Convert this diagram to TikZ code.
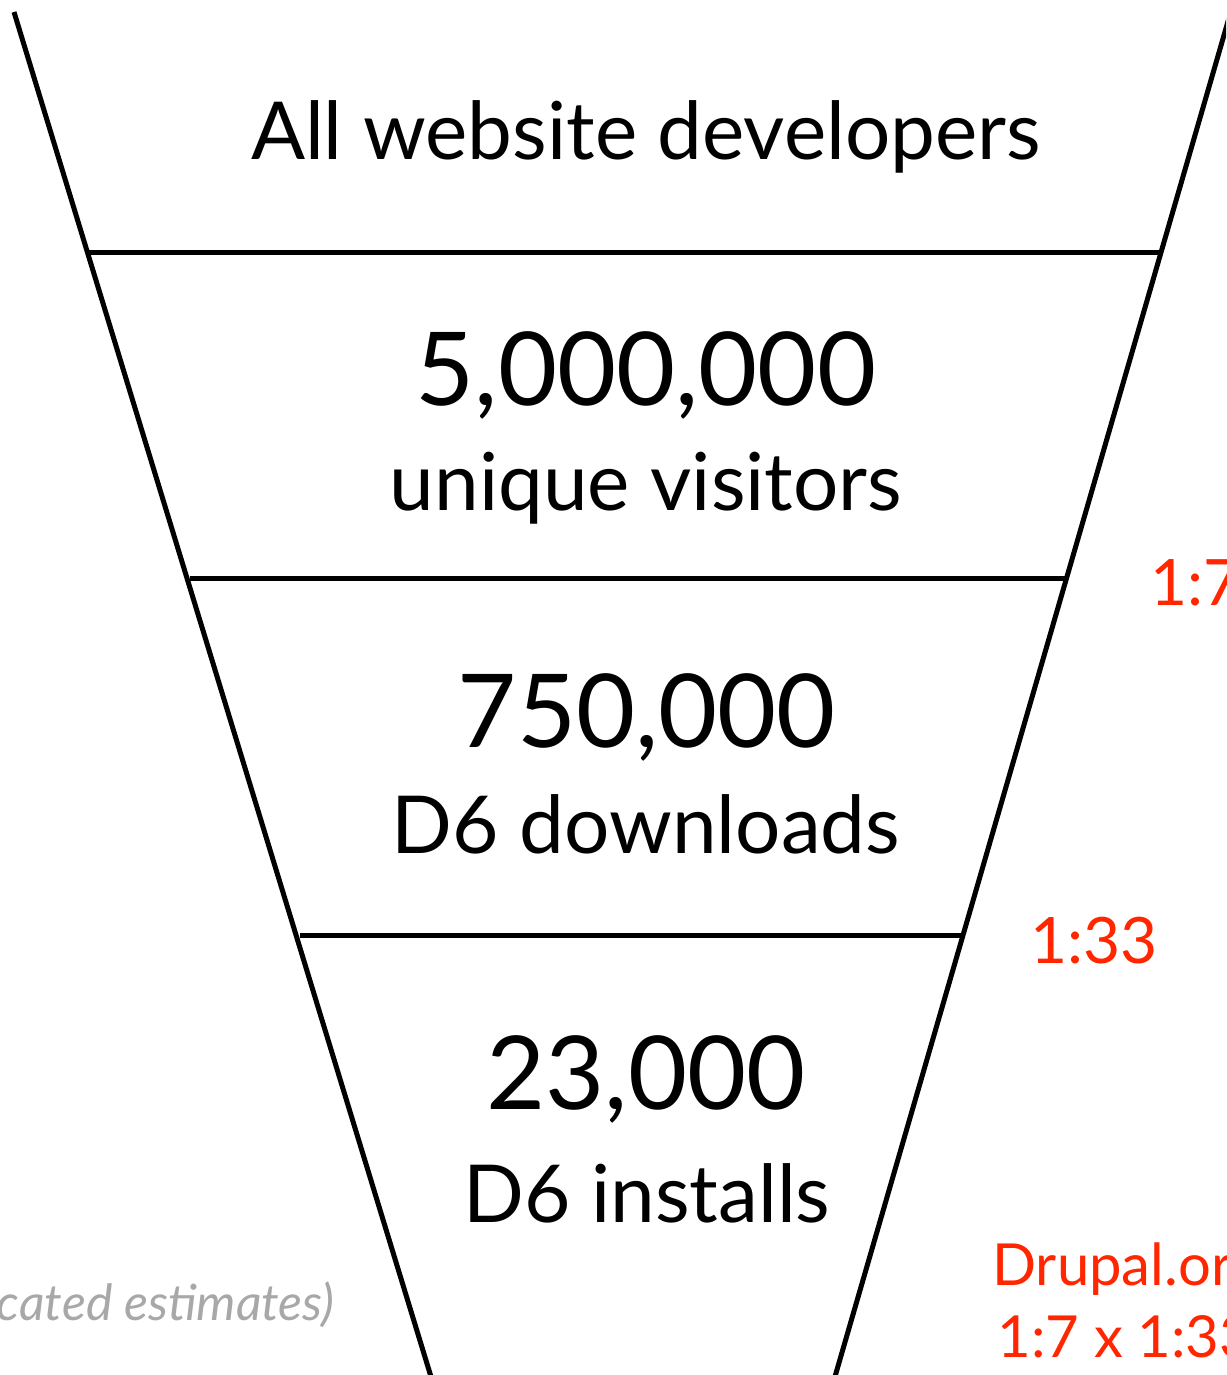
\documentclass[tikz,border=0pt]{standalone}
\usepackage{fontspec}
\setmainfont{Lato}
\definecolor{ratiored}{HTML}{FF2600}
\definecolor{notegrey}{HTML}{A8A8A8}
\tikzset{
  funnel/.style={line width=2.5pt},
  stagecount/.style={anchor=base, inner sep=0pt, font=\fontsize{51}{56}\selectfont},
  stagelabel/.style={anchor=base, inner sep=0pt, font=\fontsize{40}{44}\selectfont},
  ratio/.style={anchor=base west, inner sep=0pt, text=ratiored, font=\fontsize{32}{36}\selectfont},
  ratiosmall/.style={anchor=base west, inner sep=0pt, text=ratiored, font=\fontsize{29}{32}\selectfont}
}
\begin{document}
\begin{tikzpicture}[x=0.5pt, y=-0.5pt]
  \useasboundingbox (0,0) rectangle (1226,1375);
  \clip (0,0) rectangle (1226,1375);

  % Funnel sides
  \draw[funnel] (14,12) -- (432,1380);
  \draw[funnel] (1240,-20) -- (834,1380);

  % Stage dividers
  \foreach \y/\xl/\xr in {253/88/1162, 578/190/1067, 935/300/963} {
    \draw[funnel] (\xl,\y) -- (\xr,\y);
  }

  % Stages
  \node[stagelabel] (all) at (646,160) {All website developers};
  \node[stagecount] (visitcount) at (646,405) {5,000,000};
  \node[stagelabel] (visitors) at (646,510) {unique visitors};
  \node[stagecount] (dlcount) at (647,747) {750,000};
  \node[stagelabel] (downloads) at (646,853) {D6 downloads};
  \node[stagecount] (instcount) at (646,1109) {23,000};
  \node[stagelabel] (installs) at (647,1222) {D6 installs};

  % Conversion ratios
  \node[ratio] (ratiovd) at (1150,605) {1:7};
  \node[ratio] (ratiodi) at (1030,963) {1:33};
  \node[ratiosmall] (drupal) at (992,1285) {Drupal.org};
  \node[ratiosmall] (product) at (997,1357) {1:7 x 1:33};

  % Note
  \node[anchor=base east, inner sep=0pt, text=notegrey, font=\itshape\fontsize{25}{30}\selectfont] (note) at (335,1320) {(educated estimates)};
\end{tikzpicture}
\end{document}
